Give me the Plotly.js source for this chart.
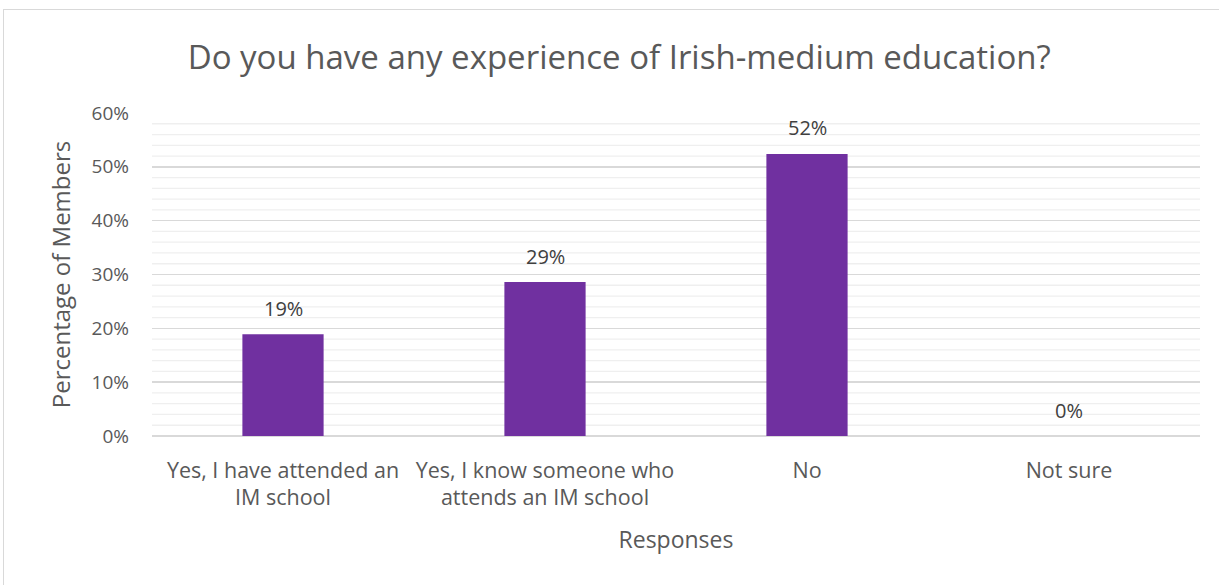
<!DOCTYPE html>
<html>
<head>
<meta charset="utf-8">
<script src="https://cdn.plot.ly/plotly-3.0.1.min.js"></script>
<style>
  html, body { margin: 0; padding: 0; background: #fff; }
  #frame { position: absolute; left: 3px; top: 9px; width: 1230px; height: 600px; border: 1px solid #d9d9d9; box-sizing: border-box; }
  #chart { position: absolute; left: 0; top: 0; width: 1219px; height: 585px; }
</style>
</head>
<body>
<div id="frame"></div>
<div id="chart"></div>
<script>
// Survey responses: share of members by experience of Irish-medium education
const categories = [
  "Yes, I have attended an<br>IM school",
  "Yes, I know someone who<br>attends an IM school",
  "No",
  "Not sure"
];
const shares = [0.189, 0.286, 0.524, 0.0];

const yTickVals = [0, 0.1, 0.2, 0.3, 0.4, 0.5, 0.6];
const yTickText = ["0%", "10%", "20%", "30%", "40%", "50%", "60%"];

const font = "'Open Sans', sans-serif";
const grey = "#595959";

// Minor gridlines every 2%, drawn as light horizontal lines behind the bars
const minorShapes = [];
for (let i = 1; i < 30; i++) {
  if (i % 5 === 0) continue;
  const v = i * 0.02;
  minorShapes.push({
    type: "line", xref: "paper", yref: "y", layer: "below",
    x0: 0, x1: 1, y0: v, y1: v,
    line: { color: "#efefef", width: 1.3 }
  });
}

// Value labels sit above each bar
const valueLabels = categories.map((c, i) => ({
  x: c, y: shares[i], xref: "x", yref: "y",
  text: Math.round(shares[i] * 100) + "%",
  showarrow: false, yanchor: "middle", yshift: 26,
  font: { family: font, size: 20, color: "#404040" }
}));

const trace = {
  type: "bar",
  x: categories,
  y: shares,
  marker: { color: "#7030a0" },
  hoverinfo: "skip"
};

const layout = {
  width: 1219, height: 585,
  margin: { l: 152, r: 19, t: 113, b: 149 },
  paper_bgcolor: "rgba(0,0,0,0)",
  plot_bgcolor: "rgba(0,0,0,0)",
  bargap: 0.69,
  showlegend: false,
  title: {
    text: "Do you have any experience of Irish-medium education?",
    font: { family: font, size: 33, color: grey },
    x: 0.508, xanchor: "center", y: 0.902, yanchor: "middle"
  },
  xaxis: {
    title: { text: "Responses", font: { family: font, size: 23, color: grey }, standoff: 21 },
    tickfont: { family: font, size: 21.5, color: grey },
    showgrid: false, zeroline: false, showline: false,
    ticks: "", ticklabelstandoff: 19
  },
  yaxis: {
    title: { text: "Percentage of Members", font: { family: font, size: 24, color: grey }, standoff: 14 },
    range: [0, 0.6],
    tickvals: yTickVals, ticktext: yTickText,
    tickfont: { family: font, size: 19, color: grey },
    showgrid: true, gridcolor: "#d9d9d9", gridwidth: 1.5,
    zeroline: true, zerolinecolor: "#d9d9d9", zerolinewidth: 1.5,
    showline: false, ticks: "", ticklabelstandoff: 22
  },
  shapes: minorShapes,
  annotations: valueLabels
};

Plotly.newPlot("chart", [trace], layout, { displayModeBar: false, staticPlot: true });
</script>
</body>
</html>
